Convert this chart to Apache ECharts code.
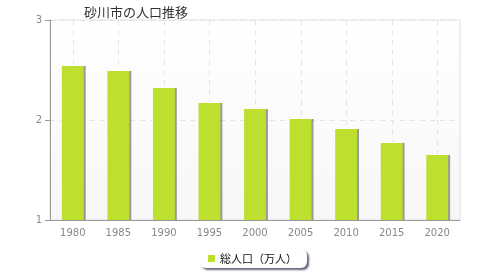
<!DOCTYPE html>
<html><head><meta charset="utf-8">
<script src="https://cdn.jsdelivr.net/npm/echarts@6/dist/echarts.min.js"></script>
<style>html,body{margin:0;padding:0;background:#fff}#c{width:480px;height:280px}</style>
</head><body><div id="c"></div>
<script>
const title = '砂川市の人口推移';
const categories = ['1980','1985','1990','1995','2000','2005','2010','2015','2020'];
const population = [2.54, 2.49, 2.32, 2.17, 2.11, 2.01, 1.91, 1.77, 1.65];
const seriesName = '総人口（万人）';
const yTicks = [1, 2, 3];

const chart = echarts.init(document.getElementById('c'), null, {renderer:'canvas'});
chart.setOption({
  animation: false,
  title: {text: title, left: 79, top: 1, textStyle:{fontSize:13, fontWeight:'normal', color:'#333', fontFamily:'"Noto Sans CJK JP", sans-serif'}},
  grid: {left: 50, right: 20, top: 20, bottom: 60, show: true, borderColor:'#e0e0e0', borderWidth:1,
    backgroundColor: new echarts.graphic.LinearGradient(0,0,0,1,[{offset:0,color:'#ffffff'},{offset:1,color:'#f7f7f7'}])},
  legend: {data:[seriesName], bottom: 12, left: 200, itemWidth: 7, itemHeight: 7, icon:'rect', itemGap: 5,
    padding:[4,10,4,8], borderColor:'#999', borderWidth:0, borderRadius:6, backgroundColor:'#fff',
    shadowColor:'rgba(60,60,90,0.8)', shadowOffsetX:2, shadowOffsetY:2, shadowBlur:2,
    textStyle:{fontSize:11, color:'#111', fontFamily:'"Noto Sans CJK JP", sans-serif'}},
  xAxis: {type:'category', data: categories, boundaryGap:true,
    axisLine:{lineStyle:{color:'#999'}},
    axisTick:{alignWithLabel:true, length:5, lineStyle:{color:'#999'}},
    axisLabel:{color:'#888', fontSize:10, margin:8, fontFamily:'"DejaVu Sans", sans-serif'},
    splitLine:{show:false}},
  yAxis: {type:'value', min:1, max:3, interval:1,
    axisLine:{show:true, lineStyle:{color:'#999'}},
    axisTick:{show:true, length:5, lineStyle:{color:'#999'}},
    axisLabel:{color:'#888', fontSize:10, margin:8, fontFamily:'"DejaVu Sans", sans-serif',
      formatter: v => yTicks.includes(v) ? String(v) : ''},
    splitLine:{show:true, lineStyle:{color:'#e3e3e3', type:[5,5]}}},
  series: [
    {name:'vgrid', type:'custom', z:1, silent:true,
     data: categories.map((c, i) => [c, population[i]]),
     renderItem: (params, api) => {
       const cs = params.coordSys;
       const p = api.coord([api.value(0), api.value(1)]);
       const x = Math.round(p[0]) + 0.5;
       return {type:'line', shape:{x1:x, y1:cs.y, x2:x, y2:p[1] - 1},
         style:{stroke:'#e3e3e3', lineWidth:1, lineDash:[5,5]}};
     }},
    {name: seriesName, type:'bar', data: population, barWidth:'48%', z:3,
    itemStyle:{color:'#bde02e', shadowColor:'rgba(90,90,90,0.6)', shadowOffsetX:2, shadowOffsetY:0, shadowBlur:0}}
  ]
});
</script></body></html>
